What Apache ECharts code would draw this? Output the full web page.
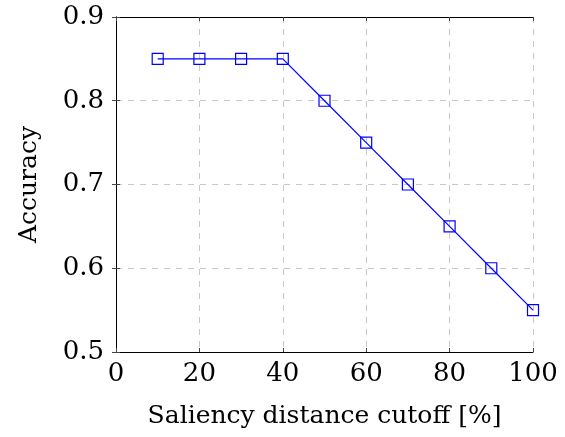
<!DOCTYPE html>
<html>
<head>
<meta charset="utf-8">
<script src="https://cdn.jsdelivr.net/npm/echarts@6/dist/echarts.min.js"></script>
<style>
  html, body { margin: 0; padding: 0; background: #fff; }
  #chart { width: 565px; height: 437px; }
</style>
</head>
<body>
<div id="chart"></div>
<script>
// data
const cutoffs = [10, 20, 30, 40, 50, 60, 70, 80, 90, 100];
const accuracy = [0.85, 0.85, 0.85, 0.85, 0.80, 0.75, 0.70, 0.65, 0.60, 0.55];

const font = "'DejaVu Serif', serif";
const gridLine = { show: true, lineStyle: { color: '#c8c8c8', type: [6, 6], width: 1 } };

const chart = echarts.init(document.getElementById('chart'));
chart.setOption({
  animation: false,
  grid: { left: 116, right: 32, top: 17, bottom: 85 },
  xAxis: [{
    type: 'value', min: 0, max: 100, interval: 20,
    name: 'Saliency distance cutoff [%]', nameLocation: 'middle', nameGap: 52,
    nameTextStyle: { fontFamily: font, fontSize: 25, color: '#000' },
    axisLine: { show: true, onZero: false, lineStyle: { color: '#000', width: 1 } },
    axisTick: { show: true, inside: true, length: 4, lineStyle: { color: '#444' } },
    axisLabel: { fontFamily: font, fontSize: 26, color: '#000', margin: 9 },
    splitLine: gridLine
  }, {
    type: 'value', position: 'top', min: 0, max: 100, interval: 20,
    axisLine: { show: true, lineStyle: { color: '#000', width: 1 } },
    axisTick: { show: true, inside: true, length: 4, lineStyle: { color: '#444' } },
    axisLabel: { show: false }, splitLine: { show: false }
  }],
  yAxis: [{
    type: 'value', min: 0.5, max: 0.9, interval: 0.1,
    name: 'Accuracy', nameLocation: 'middle', nameGap: 74, nameRotate: 90,
    nameTextStyle: { fontFamily: font, fontSize: 25, color: '#000' },
    axisLine: { show: true, onZero: false, lineStyle: { color: '#000', width: 1 } },
    axisTick: { show: true, inside: true, length: 4, lineStyle: { color: '#444' } },
    axisLabel: { fontFamily: font, fontSize: 26, color: '#000', margin: 12,
      formatter: v => v.toFixed(1) },
    splitLine: gridLine
  }, {
    type: 'value', position: 'right', min: 0.5, max: 0.9, interval: 0.1,
    axisLine: { show: true, lineStyle: { color: '#000', width: 1 } },
    axisTick: { show: true, inside: true, length: 4, lineStyle: { color: '#444' } },
    axisLabel: { show: false }, splitLine: { show: false }
  }],
  series: [{
    type: 'line',
    data: cutoffs.map((c, i) => [c, accuracy[i]]),
    symbol: 'rect', symbolSize: 11,
    itemStyle: { color: 'rgba(255,255,255,0)', borderColor: '#0000ff', borderWidth: 1.2 },
    lineStyle: { color: '#0000ff', width: 1.2 }
  }]
});
</script>
</body>
</html>
